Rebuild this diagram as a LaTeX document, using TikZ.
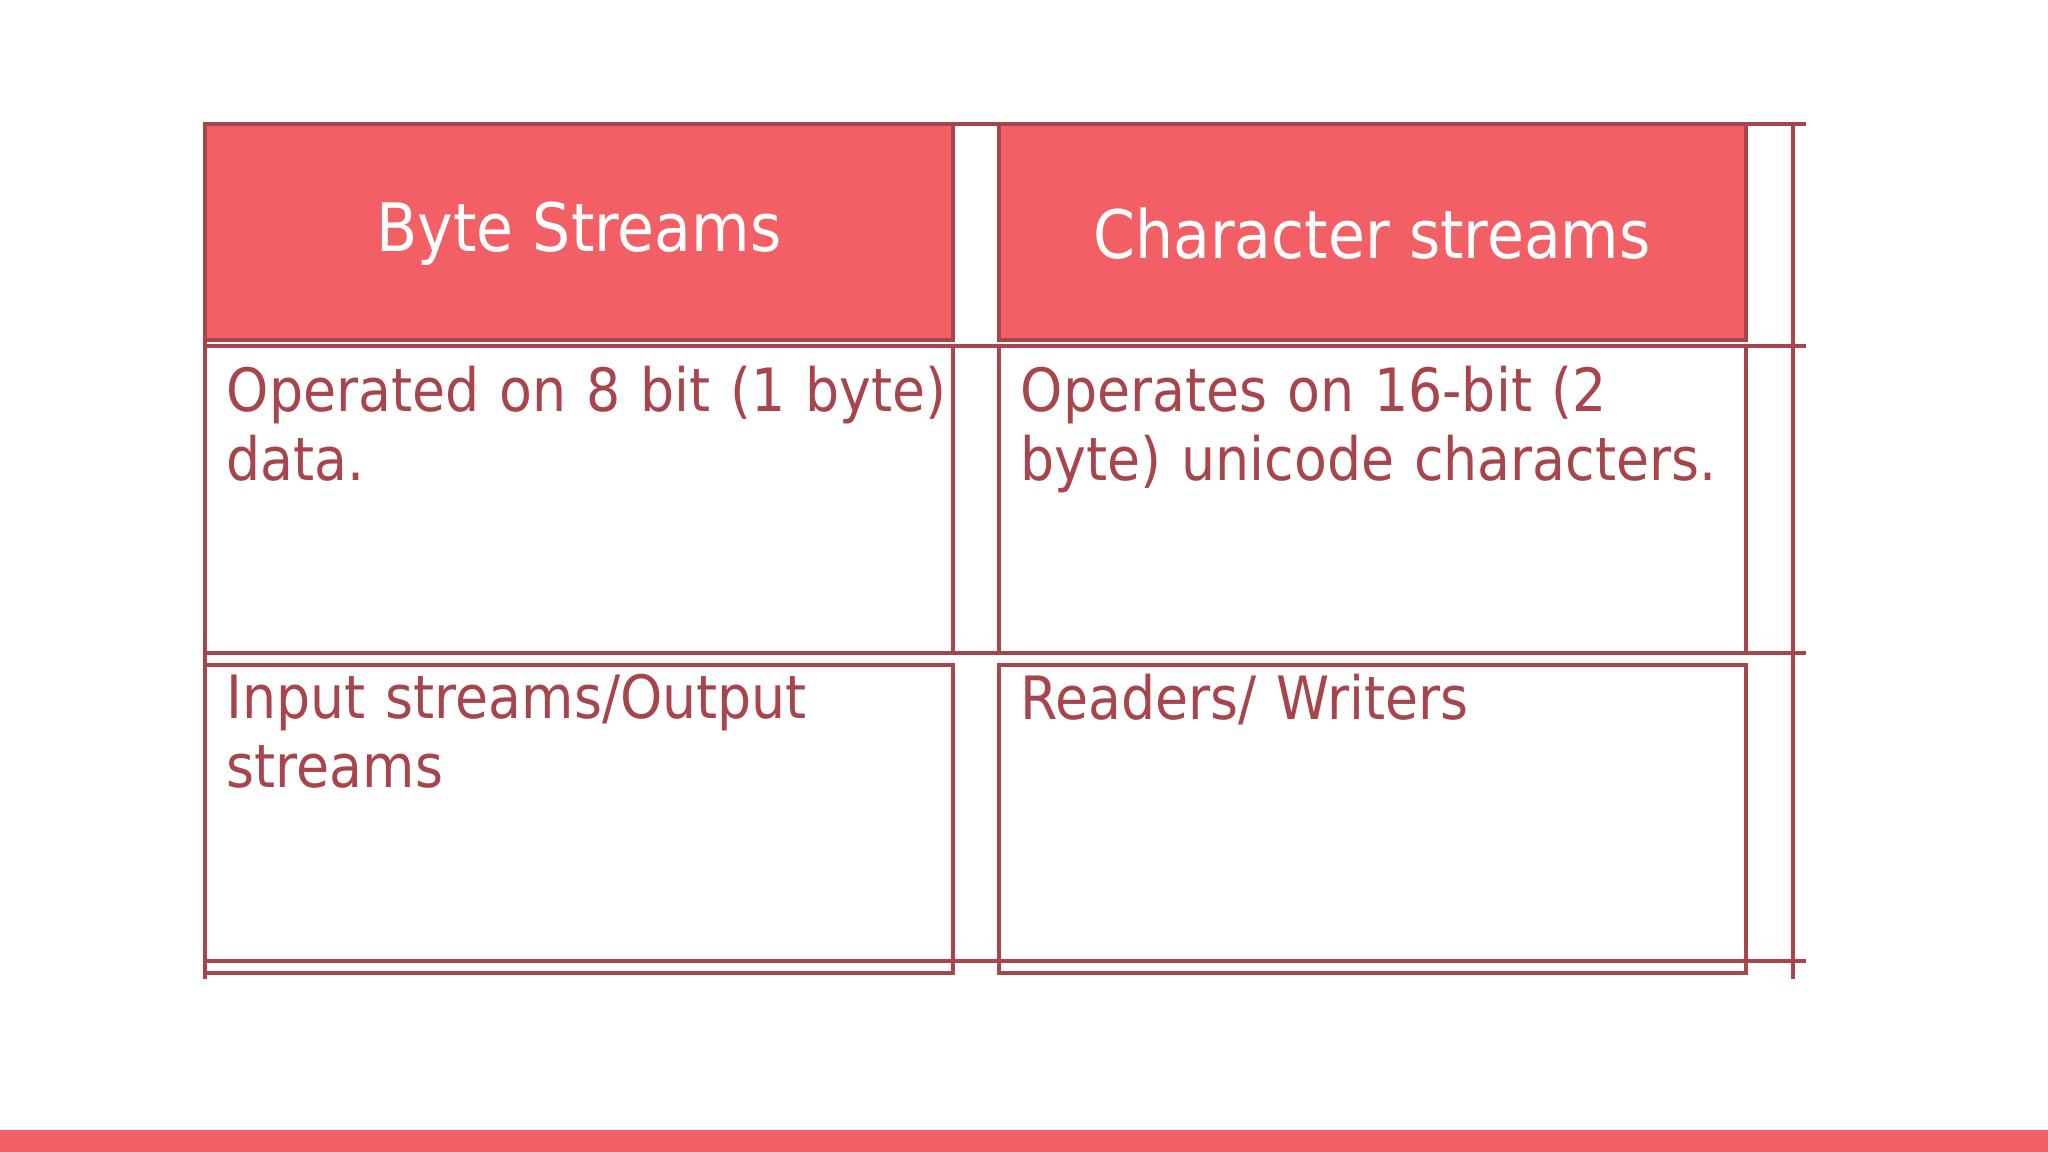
\documentclass[tikz,border=0pt]{standalone}
\usepackage{fontspec}
\setmainfont{DejaVu Sans Condensed}
\definecolor{hdr}{HTML}{F26065}
\definecolor{ln}{HTML}{A8444C}
\begin{document}
\begin{tikzpicture}[x=0.1mm,y=-0.1mm,
  ln/.style={draw=ln,line width=1.1pt},
  hbox/.style={ln,fill=hdr},
  htxt/.style={text=white,font=\fontsize{19}{23}\selectfont},
  ctxt/.style={text=ln,font=\fontsize{17}{19.7}\selectfont,anchor=north west,align=left,inner sep=0pt,text width=720}]
\useasboundingbox (0,0) rectangle (2048,1152);
\fill[hdr] (0,1130) rectangle (2048,1152);
% header boxes
\draw[hbox] (205,124) rectangle (953,340);
\draw[hbox] (999,124) rectangle (1746,340);
\node[htxt] (h1) at (579,234) {Byte Streams};
\node[htxt] (h2) at (1372,234) {Character streams};
% cells
\draw[ln] (205,346) rectangle (953,653);
\draw[ln] (999,346) rectangle (1746,653);
\draw[ln] (205,665) rectangle (953,973);
\draw[ln] (999,665) rectangle (1746,973);
% long lines
\foreach \y in {124,346,653,961} \draw[ln] (205,\y) -- (1806,\y);
\draw[ln] (205,124) -- (205,979);
\draw[ln] (1793,124) -- (1793,979);
% texts
\node[ctxt] (a) at (226,365) {Operated on 8 bit (1 byte)\\data.};
\node[ctxt] (b) at (1020,365) {Operates on 16-bit (2\\byte) unicode characters.};
\node[ctxt] (c) at (226,673) {Input streams/Output\\streams};
\node[ctxt] (d) at (1020,673) {Readers/ Writers};
\end{tikzpicture}
\end{document}
